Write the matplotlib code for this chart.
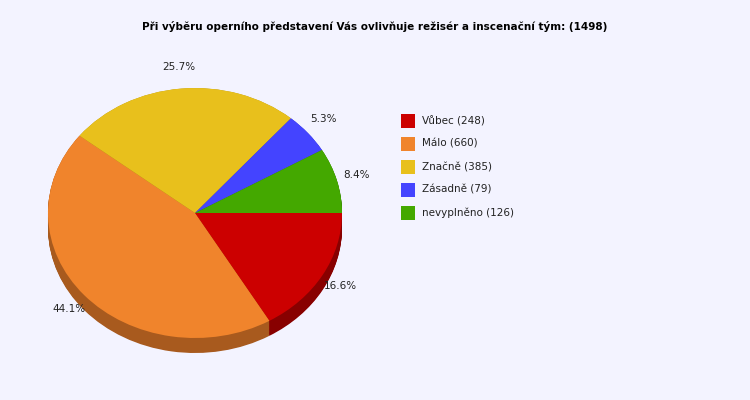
import matplotlib
matplotlib.use("Agg")
import matplotlib.pyplot as plt
import matplotlib.patches as mpatches
import numpy as np

labels = ["Vůbec", "Málo", "Značně", "Zásadně", "nevyplněno"]
counts = [248, 660, 385, 79, 126]
colors = ["#cc0000", "#f0842c", "#e8c01c", "#4444ff", "#44a800"]
dark = ["#880000", "#a85a1e", "#a08414", "#2e2eb0", "#2e7400"]
title = "Při výběru operního představení Vás ovlivňuje režisér a inscenační tým: (1498)"
bg = "#f3f3ff"

W, H = 750, 400
fig = plt.figure(figsize=(7.5, 4), dpi=100, facecolor=bg)
cx, cy, rx, ry = 195, 400 - 213, 147, 125
ax = fig.add_axes([(cx - 1.1 * rx) / W, (cy - 1.3 * ry) / H, 2.2 * rx / W, 2.4 * ry / H])

depth = 15 / ry
for k in np.linspace(depth, 0.001, 20):
    ax.pie(counts, colors=dark, startangle=0, counterclock=False, center=(0, -k),
           radius=1, frame=True, wedgeprops=dict(linewidth=0))
ax.pie(counts, colors=colors, startangle=0, counterclock=False, center=(0, 0),
       radius=1, frame=True, wedgeprops=dict(linewidth=0))
ax.set_aspect("auto")
ax.set_xlim(-1.1, 1.1); ax.set_ylim(-1.3, 1.1); ax.axis("off")

total = sum(counts)
ang = 0.0
for c in counts:
    span = 360 * c / total
    mid = np.radians(ang - span / 2)
    ang -= span
    x, y = 1.14 * np.cos(mid), 1.17 * np.sin(mid)
    ax.text(x, y, f"{100*c/total:.1f}%", ha="center", va="center", fontsize=7.5, color="#222222")

fig.text(375 / W, 1 - 27 / H, title, ha="center", va="center", fontsize=7.5, fontweight="bold")

for i, (l, c, col) in enumerate(zip(labels, counts, colors)):
    yy = 121 + 23 * i
    fig.patches.append(mpatches.Rectangle((401 / W, 1 - (yy + 7) / H), 14 / W, 14 / H,
                                          transform=fig.transFigure, facecolor=col, edgecolor="none"))
    fig.text(422 / W, 1 - yy / H, f"{l} ({c})", ha="left", va="center", fontsize=7.5, color="#222222")

fig.savefig("out.png", dpi=100, facecolor=bg)
